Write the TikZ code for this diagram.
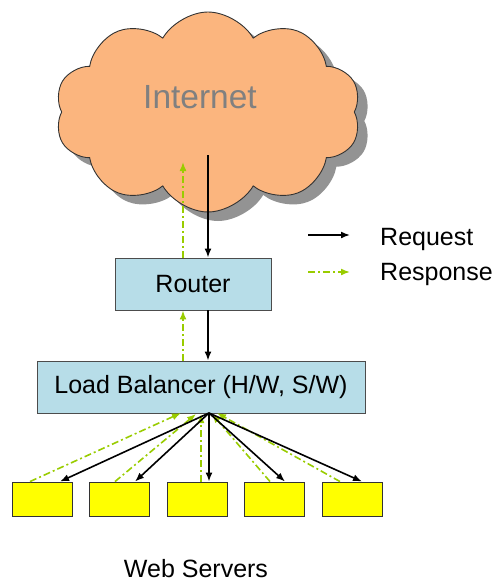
\documentclass[tikz,border=0pt]{standalone}
\usepackage{fontspec}
\setmainfont{Liberation Sans}
\usetikzlibrary{shapes.symbols,shadows,arrows.meta,calc}
\definecolor{cloudfill}{HTML}{FBB57E}
\definecolor{boxfill}{HTML}{B7DDE8}
\definecolor{resp}{HTML}{99CC00}
\definecolor{srvfill}{HTML}{FFFF00}
\tikzset{
  req/.style={black,line width=1.6pt,-{Latex[length=9pt,width=7pt]}},
  rsp/.style={resp,line width=1.6pt,dash pattern=on 7pt off 3pt on 2pt off 3pt,-{Latex[length=9pt,width=7pt]}},
  bluebox/.style={draw=black!70,fill=boxfill,line width=0.9pt,inner sep=0pt,font=\fontsize{25}{28}\selectfont},
  srv/.style={draw=black!80,fill=srvfill,line width=0.9pt,minimum width=60pt,minimum height=34pt,inner sep=0pt},
  lbl/.style={font=\fontsize{25}{28}\selectfont,inner sep=0pt}
}
\begin{document}
\begin{tikzpicture}[x=1pt,y=-1pt]
\useasboundingbox (0,0) rectangle (496,582);
\node[cloud,cloud puffs=10,cloud puff arc=120,aspect=1.55,draw=black!80,fill=cloudfill,line width=0.9pt,
  minimum width=306pt,minimum height=200pt,inner sep=0pt,
  drop shadow={shadow xshift=10pt,shadow yshift=-9pt,fill=gray!85,opacity=1}] (cloud) at (208,112) {};
\node[font=\fontsize{33.5}{36}\selectfont,text=gray,inner sep=0pt] (inet) at (200,97) {Internet};
\coordinate (cb) at (208,155);
\coordinate (ct) at (183,162);
\node[bluebox,minimum width=156pt,minimum height=52pt] (router) at (193,284) {Router};
\node[bluebox,minimum width=328pt,minimum height=52pt] (lb) at (201,387) {Load Balancer (H/W, S/W)};
\node[srv] (s1) at (42,499) {};
\node[srv] (s2) at (119,499) {};
\node[srv] (s3) at (197,499) {};
\node[srv] (s4) at (274,499) {};
\node[srv] (s5) at (352,499) {};
\node[lbl] (ws) at (196,569) {Web Servers};
% top arrows
\draw[req] (cb) -- (cb |- router.north);
\draw[rsp] (ct |- router.north) -- (ct);
\draw[req] (router.south -| cb) -- (lb.north -| cb);
\draw[rsp] (lb.north -| ct) -- (router.south -| ct);
% fan
\coordinate (lbk) at (209,413);
\draw[rsp] ([xshift=-12pt]s1.north) -- (181,413);
\draw[rsp] ([xshift=-4pt]s2.north) -- (196,414);
\draw[rsp] ([xshift=4pt]s3.north) -- (201,414);
\draw[rsp] ([xshift=-4pt]s4.north) -- (212,414);
\draw[rsp] ([xshift=-12pt]s5.north) -- (217,413);
\draw[req] (lbk) -- ([xshift=18pt]s1.north);
\draw[req] (lbk) -- ([xshift=16pt]s2.north);
\draw[req] (lbk) -- ([xshift=12pt]s3.north);
\draw[req] (lbk) -- ([xshift=11pt]s4.north);
\draw[req] (lbk) -- ([xshift=10pt]s5.north);
% legend
\coordinate (la1) at (308,235);
\coordinate (la2) at (350,235);
\coordinate (lb1) at (308,272);
\coordinate (lb2) at (350,272);
\draw[req] (la1) -- (la2);
\draw[rsp] (lb1) -- (lb2);
\node[lbl,anchor=west] (reqt) at (380,239) {Request};
\node[lbl,anchor=west] (rspt) at (380,274) {Response};
\end{tikzpicture}
\end{document}
